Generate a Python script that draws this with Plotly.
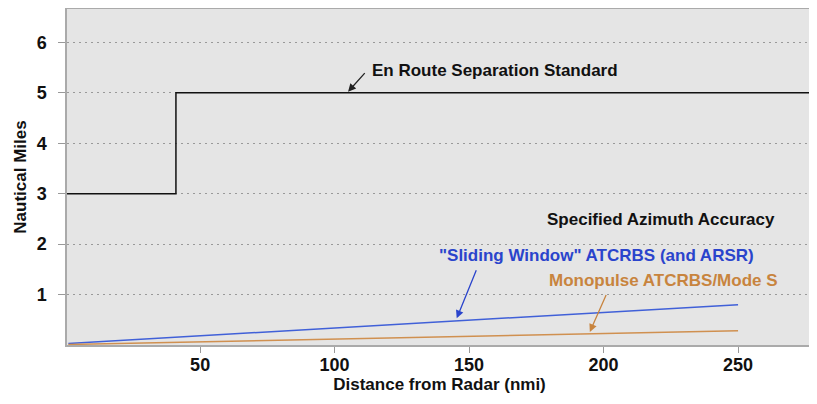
import plotly.graph_objects as go

# Data
sep_x = [0, 41, 280]
sep_y = [3, 5, 5]
dist = [1, 250]
sliding_window = [0.03, 0.80]
monopulse = [0.01, 0.28]
x_ticks = [50, 100, 150, 200, 250]
y_ticks = [1, 2, 3, 4, 5, 6]

FONT = "Liberation Sans, Arial"
BLUE = "#2a44cc"
ORANGE = "#c8843e"

fig = go.Figure()
fig.add_trace(go.Scatter(x=sep_x, y=sep_y, mode="lines", line=dict(color="#111111", width=1.5, shape="hv"), hoverinfo="skip"))
fig.add_trace(go.Scatter(x=dist, y=sliding_window, mode="lines", line=dict(color="#4060d8", width=1.5), hoverinfo="skip"))
fig.add_trace(go.Scatter(x=dist, y=monopulse, mode="lines", line=dict(color="#d09050", width=1.5), hoverinfo="skip"))

def arrow(x, y, ax, ay, color):
    fig.add_annotation(x=x, y=y, ax=ax, ay=ay, xref="x", yref="y", axref="x", ayref="y",
                       text="", showarrow=True, arrowhead=2, arrowsize=1.2, arrowwidth=1.3, arrowcolor=color)

arrow(105.0, 5.02, 111.7, 5.42, "#222222")
arrow(145.4, 0.53, 152.9, 1.51, BLUE)
arrow(194.9, 0.26, 201.2, 1.02, ORANGE)

def label(x, y, text, color, anchor="center"):
    fig.add_annotation(x=x, y=y, xref="x", yref="y", text="<b>" + text + "</b>", showarrow=False,
                       xanchor=anchor, yanchor="middle", font=dict(family=FONT, size=17, color=color))

label(113.2, 5.44, "En Route Separation Standard", "#111111", "left")
label(221.3, 2.49, "Specified Azimuth Accuracy", "#111111")
label(197.2, 1.77, "\"Sliding Window\" ATCRBS (and ARSR)", BLUE)
label(222.4, 1.28, "Monopulse ATCRBS/Mode S", ORANGE)

fig.update_layout(
    width=809, height=396,
    margin=dict(l=59, r=5, t=1, b=59),
    paper_bgcolor="white", plot_bgcolor="#e5e5e5",
    showlegend=False,
    font=dict(family=FONT, size=17, color="#111111"),
)
fig.update_xaxes(
    range=[0.5, 277.5], tickvals=x_ticks, ticktext=[f"<b>{v}</b>" for v in x_ticks],
    showgrid=False, zeroline=False, ticks="outside", ticklen=6, tickcolor="#999999",
    showline=True, linecolor="#aaaaaa", linewidth=1.5, mirror=True, automargin=False,
    tickfont=dict(size=18), ticklabelstandoff=-3,
    title=dict(text="<b>Distance from Radar (nmi)</b>", standoff=4, font=dict(size=17)),
)
fig.update_yaxes(
    range=[0, 6.66], tickvals=y_ticks, ticktext=[f"<b>{v}</b>" for v in y_ticks],
    showgrid=True, gridcolor="#999999", griddash="1.5px,4.5px", gridwidth=1, zeroline=False,
    ticks="outside", ticklen=7, tickcolor="#999999", automargin=False,
    tickfont=dict(size=18), ticklabelstandoff=8,
    showline=True, linecolor="#aaaaaa", linewidth=1.5, mirror=True,
    title=dict(text="<b>Nautical Miles</b>", standoff=6, font=dict(size=17)),
)

fig.write_html("out.html")
